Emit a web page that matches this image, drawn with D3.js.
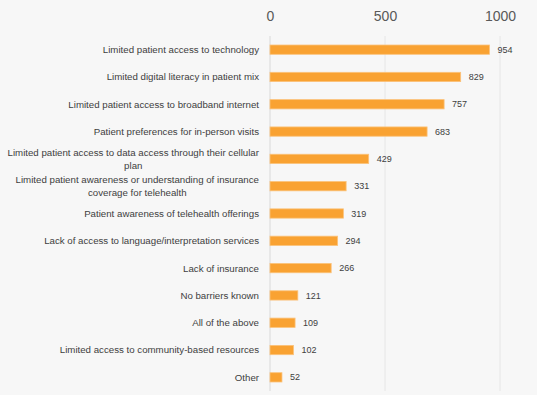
<!DOCTYPE html>
<html>
<head>
<meta charset="utf-8">
<script src="https://cdn.jsdelivr.net/npm/d3@7"></script>
<style>
  body { margin: 0; background: #f7f7f7; }
  #wrapper { width: 537px; height: 395px; }
</style>
</head>
<body>
<div id="wrapper"></div>
<script>
// categories (each entry is a list of label lines), counts, ticks
const categories = [
    ["Limited patient access to technology"],
    ["Limited digital literacy in patient mix"],
    ["Limited patient access to broadband internet"],
    ["Patient preferences for in-person visits"],
    ["Limited patient access to data access through their cellular", "plan"],
    ["Limited patient awareness or understanding of insurance", "coverage for telehealth"],
    ["Patient awareness of telehealth offerings"],
    ["Lack of access to language/interpretation services"],
    ["Lack of insurance"],
    ["No barriers known"],
    ["All of the above"],
    ["Limited access to community-based resources"],
    ["Other"]
];
const counts = [954, 829, 757, 683, 429, 331, 319, 294, 266, 121, 109, 102, 52];
const tickValues = [0, 500, 1000];

function buildPlot() {
    const dimension = {
        width: 537,
        height: 395,
        margin: { top: 36, left: 270, bottom: 4, right: 37 }
    };
    dimension.boundedWidth = dimension.width - dimension.margin.left - dimension.margin.right;
    dimension.boundedHeight = dimension.height - dimension.margin.top - dimension.margin.bottom;

    const svg = d3.select("#wrapper").append("svg")
        .attr("width", dimension.width)
        .attr("height", dimension.height);

    svg.append("rect")
        .attr("width", dimension.width)
        .attr("height", dimension.height)
        .attr("fill", "#f7f7f7");

    const bounded = svg.append("g")
        .attr("transform", `translate(${dimension.margin.left},${dimension.margin.top})`);

    const xScaler = d3.scaleLinear()
        .domain([0, 1000])
        .range([0, 230]);

    const yScaler = d3.scaleBand()
        .domain(d3.range(categories.length))
        .range([0, dimension.boundedHeight])
        .paddingInner(0.66)
        .paddingOuter(0.33);

    // gridlines
    bounded.selectAll(".grid")
        .data(tickValues)
        .join("line")
        .attr("x1", d => xScaler(d))
        .attr("x2", d => xScaler(d))
        .attr("y1", 0)
        .attr("y2", dimension.boundedHeight)
        .attr("stroke", d => d === 0 ? "#d9d9d9" : "#e6e6e6")
        .attr("stroke-width", 1);

    // top axis labels
    const xAxis = bounded.append("g")
        .call(d3.axisTop(xScaler).tickValues(tickValues).tickFormat(d3.format("d"))
            .tickSize(0).tickPadding(15));
    xAxis.select(".domain").remove();
    xAxis.selectAll("text")
        .attr("fill", "#595959")
        .style("font-family", "'Liberation Sans', Arial, sans-serif")
        .style("font-size", "14px");

    // bars
    bounded.selectAll(".bar")
        .data(counts)
        .join("rect")
        .attr("x", xScaler(0))
        .attr("y", (d, i) => yScaler(i))
        .attr("width", d => xScaler(d) - xScaler(0))
        .attr("height", yScaler.bandwidth())
        .attr("fill", "#f9a232")
        .attr("stroke", "#fbc27a")
        .attr("stroke-width", 0.8);

    // value labels
    bounded.selectAll(".value")
        .data(counts)
        .join("text")
        .attr("x", d => xScaler(d) + 8)
        .attr("y", (d, i) => yScaler(i) + yScaler.bandwidth() / 2)
        .attr("dy", "0.35em")
        .attr("fill", "#404040")
        .style("font-family", "'Liberation Sans', Arial, sans-serif")
        .style("font-size", "9px")
        .text(d => d);

    // category labels
    const lineHeight = 12.7;
    const labels = bounded.selectAll(".cat")
        .data(categories)
        .join("text")
        .attr("fill", "#404040")
        .style("font-family", "'Liberation Sans', Arial, sans-serif")
        .style("font-size", "9.7px")
        .attr("text-anchor", "end");

    labels.each(function (lines, i) {
        const t = d3.select(this);
        const cy = yScaler(i) + yScaler.bandwidth() / 2;
        const x = -11;
        if (lines.length === 1) {
            t.append("tspan").attr("x", x).attr("y", cy).attr("dy", "0.35em").text(lines[0]);
        } else {
            // multi-line: lines centered on each other, block right-aligned
            t.attr("text-anchor", "middle");
            const tmp = t.append("tspan").text(lines[0]);
            const w = tmp.node().getComputedTextLength();
            tmp.remove();
            lines.forEach((ln, k) => {
                t.append("tspan")
                    .attr("x", x - w / 2)
                    .attr("y", cy + (k - (lines.length - 1) / 2) * lineHeight)
                    .attr("dy", "0.35em")
                    .text(ln);
            });
        }
    });
}

buildPlot();
</script>
</body>
</html>
